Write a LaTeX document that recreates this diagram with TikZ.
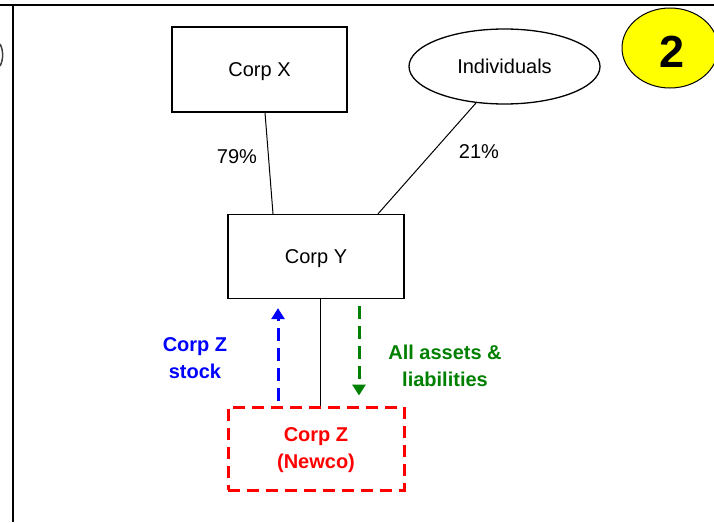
\documentclass[tikz,border=0pt]{standalone}
\usepackage{fontspec}
\setmainfont{Liberation Sans}
\usetikzlibrary{shapes.geometric,arrows.meta}
\definecolor{dgreen}{RGB}{0,128,0}
\definecolor{pblue}{RGB}{0,0,255}
\definecolor{pred}{RGB}{255,0,0}
\definecolor{pyellow}{RGB}{255,255,0}
\tikzset{
  txt/.style={font=\fontsize{20}{27}\selectfont, align=center, inner sep=0pt, text depth=0pt},
  entbox/.style={draw, line width=1.3pt, minimum width=176pt, minimum height=84pt, font=\fontsize{20}{27}\selectfont, align=center, text depth=0pt},
  newbox/.style={draw=pred, line width=3pt, dash pattern=on 12pt off 7pt, minimum width=176pt, minimum height=83pt, text=pred, font=\fontsize{20}{27}\selectfont\bfseries, align=center, text depth=0pt},
  own/.style={line width=1pt},
  flow/.style={line width=3pt, dash pattern=on 13pt off 7pt, -{Triangle[length=11pt,width=13pt]}},
}
\begin{document}
\begin{tikzpicture}[x=1pt,y=-1pt]
\useasboundingbox (0,0) rectangle (714,522);
% frame
\draw[line width=2pt] (0,5) -- (714,5);
\draw[line width=2.5pt] (13,5) -- (13,522);
\draw[line width=1.5pt, black!75] (0,44) .. controls (3.5,50) and (3.5,60) .. (0,66);
% step number
\node[ellipse, draw, fill=pyellow, line width=1pt, minimum width=96pt, minimum height=80pt, inner sep=0pt] (num) at (670,48) {};
\node[font=\fontsize{45}{45}\selectfont\bfseries, inner sep=0pt] (numt) at (672,52) {2};
% entities
\node[entbox, minimum width=175pt, minimum height=85pt] (x) at (259.5,69.5) {Corp X};
\node[ellipse, draw, line width=1.3pt, minimum width=191pt, minimum height=75pt, inner sep=0pt, font=\fontsize{20}{27}\selectfont, text depth=0pt] (ind) at (504.5,66.5) {Individuals};
\node[entbox] (y) at (316,256.5) {Corp Y};
\node[newbox] (z) at (316,448.5) {Corp Z\\(Newco)};
% ownership lines
\draw[own] ([xshift=5.5pt]x.south) -- ([xshift=-43pt]y.north);
\draw[own] (ind.232) -- ([xshift=62pt]y.north);
\draw[own] ([xshift=4pt]y.south) -- ([xshift=4pt]z.north);
\node[txt] (p79) at (237,157) {79\%};
\node[txt] (p21) at (479,152) {21\%};
% flows
\draw[flow, pblue] ([xshift=-38pt,yshift=5pt]z.north) -- ([xshift=-38pt,yshift=-9pt]y.south);
\draw[flow, dgreen] ([xshift=43pt,yshift=-7pt]y.south) -- ([xshift=43pt,yshift=10pt]z.north);
\node[txt, text=pblue, font=\fontsize{20}{27}\selectfont\bfseries] (lstock) at (195,358) {Corp Z\\stock};
\node[txt, text=dgreen, font=\fontsize{20}{27}\selectfont\bfseries] (lassets) at (445,366) {All assets \&\\liabilities};
\end{tikzpicture}
\end{document}
